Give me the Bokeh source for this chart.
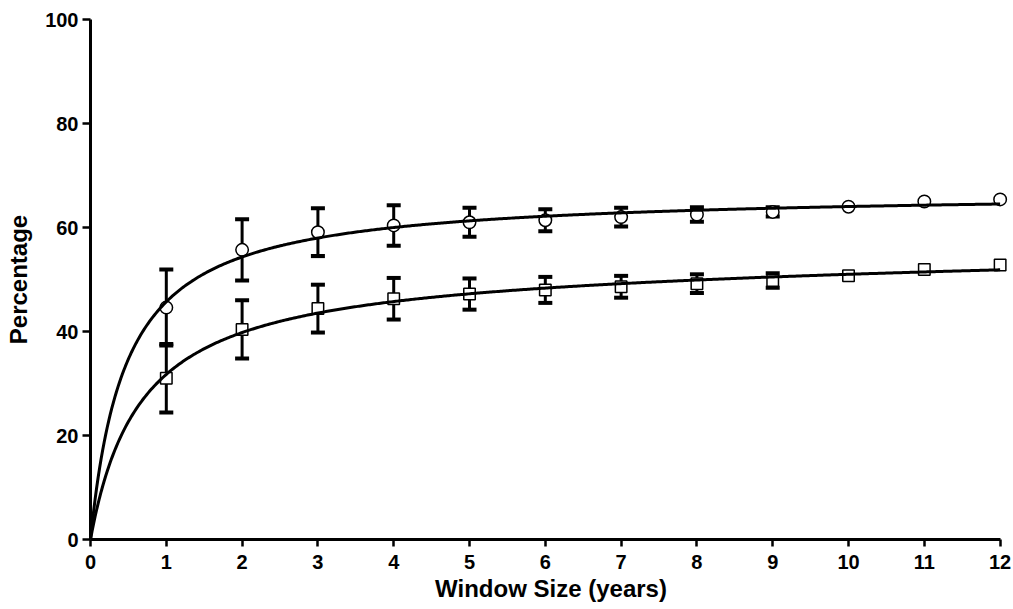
import numpy as np
from bokeh.plotting import figure
from bokeh.models import ColumnDataSource, Whisker, TeeHead, Range1d, FixedTicker
from bokeh.embed import file_html
from bokeh.resources import INLINE

# ---- data ----
window_years = [1, 2, 3, 4, 5, 6, 7, 8, 9, 10, 11, 12]
circle_mean = [44.6, 55.7, 59.1, 60.4, 61.0, 61.4, 62.0, 62.5, 63.0, 64.0, 65.0, 65.4]
circle_err = [7.3, 5.9, 4.6, 3.9, 2.8, 2.1, 1.8, 1.4, 0.9, 0.0, 0.0, 0.0]
square_mean = [31.0, 40.4, 44.4, 46.3, 47.2, 48.0, 48.6, 49.2, 49.8, 50.7, 51.9, 52.8]
square_err = [6.6, 5.6, 4.6, 4.0, 3.0, 2.5, 2.1, 1.8, 1.4, 0.0, 0.0, 0.0]
x_ticks = [0, 1, 2, 3, 4, 5, 6, 7, 8, 9, 10, 11, 12]
y_ticks = [0, 20, 40, 60, 80, 100]
x_title = "Window Size (years)"
y_title = "Percentage"

FONT = "Liberation Sans"


def fit_curve(xs, ys):
    """Least-squares fit of y = B*x/(K+x) + N*x to the data."""
    x = np.asarray(xs, float)
    y = np.asarray(ys, float)
    best = None
    for K in np.linspace(0.02, 6, 3000):
        A = np.column_stack([x / (K + x), x])
        coef, *_ = np.linalg.lstsq(A, y, rcond=None)
        sse = float(((A @ coef - y) ** 2).sum())
        if best is None or sse < best[0]:
            best = (sse, K, coef)
    _, K, (B, N) = best
    return lambda t: B * t / (K + t) + N * t


p = figure(width=1013, height=609, output_backend="svg", toolbar_location=None,
           x_range=Range1d(0, 12.15), y_range=Range1d(0, 100),
           min_border_left=90, min_border_right=2, min_border_top=19,
           min_border_bottom=70)
p.outline_line_color = None
p.grid.visible = False
p.background_fill_color = "white"
p.border_fill_color = "white"

for ax in (p.xaxis[0], p.yaxis[0]):
    ax.axis_line_width = 3
    ax.axis_line_color = "black"
    ax.major_tick_line_width = 2.5
    ax.major_tick_line_color = "black"
    ax.major_tick_in = 0
    ax.minor_tick_line_color = None
    ax.major_label_text_font = FONT
    ax.major_label_text_font_style = "bold"
    ax.major_label_text_font_size = "20px"
    ax.major_label_text_color = "black"
    ax.axis_label_text_font = FONT
    ax.axis_label_text_font_style = "bold"
    ax.axis_label_text_font_size = "24px"
    ax.axis_label_text_color = "black"

p.xaxis.ticker = FixedTicker(ticks=x_ticks)
p.yaxis.ticker = FixedTicker(ticks=y_ticks)
p.xaxis.bounds = (0, 12)
p.xaxis.major_tick_out = 7
p.yaxis.major_tick_out = 8
p.xaxis.major_label_standoff = 8
p.yaxis.major_label_standoff = 4
p.xaxis.axis_label = x_title
p.yaxis.axis_label = y_title
p.xaxis.axis_label_standoff = 3
p.yaxis.axis_label_standoff = 10

# error bars
for mean, err in ((circle_mean, circle_err), (square_mean, square_err)):
    xs = [x for x, e in zip(window_years, err) if e > 0]
    up = [m + e for m, e in zip(mean, err) if e > 0]
    lo = [m - e for m, e in zip(mean, err) if e > 0]
    src = ColumnDataSource(dict(x=xs, upper=up, lower=lo))
    w = Whisker(source=src, base="x", upper="upper", lower="lower",
                line_width=3, line_color="black",
                upper_head=TeeHead(size=14, line_width=4, line_color="black"),
                lower_head=TeeHead(size=14, line_width=4, line_color="black"))
    p.add_layout(w)

# markers
p.scatter(window_years, circle_mean, marker="circle", size=12.5,
          fill_color="white", line_color="black", line_width=1.5)
p.scatter(window_years, square_mean, marker="square", size=11.5,
          fill_color="white", line_color="black", line_width=1.5)

# fitted curves
t = np.linspace(0, 12, 600)
for mean in (circle_mean, square_mean):
    f = fit_curve(window_years, mean)
    p.line(t, f(t), line_color="black", line_width=3)

open("out.html", "w").write(file_html(p, INLINE))
